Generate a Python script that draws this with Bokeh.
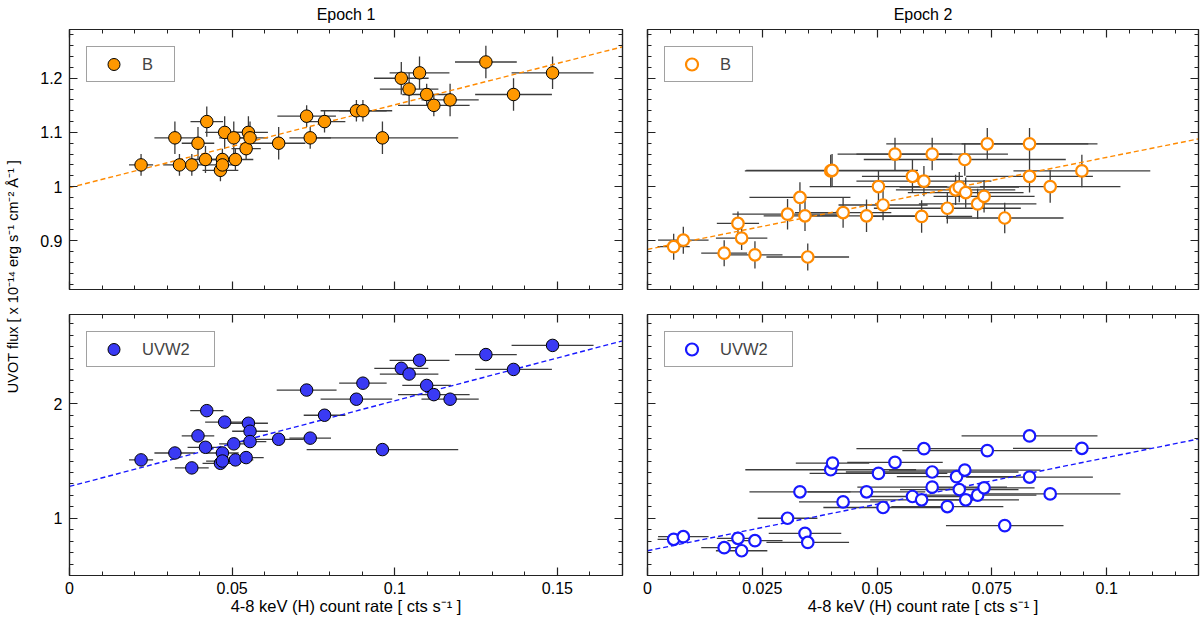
import numpy as np
from bokeh.plotting import figure
from bokeh.models import (ColumnDataSource, Range1d, LinearAxis, FixedTicker, Label,
                          Legend, LegendItem)
from bokeh.layouts import row, column
from bokeh.embed import file_html
from bokeh.resources import INLINE

# ---------------- data ----------------
# Epoch 1, B band
e1_B_rate = [0.022, 0.0324, 0.0338, 0.0376, 0.0395, 0.0418, 0.0422, 0.0464, 0.047, 0.047,
             0.0477, 0.0505, 0.051, 0.0543, 0.055, 0.0555, 0.0643, 0.0729, 0.074, 0.0784,
             0.0882, 0.0902, 0.0962, 0.102, 0.1044, 0.1076, 0.1098, 0.112, 0.117, 0.128,
             0.1365, 0.1485]
e1_B_rate_err = [0.0037, 0.0063, 0.005, 0.004, 0.005, 0.005, 0.005, 0.0055, 0.005, 0.005,
                 0.006, 0.0045, 0.0055, 0.0045, 0.006, 0.0055, 0.0082, 0.009, 0.0064, 0.0064,
                 0.011, 0.0073, 0.0233, 0.0084, 0.009, 0.0092, 0.0075, 0.011, 0.0088, 0.0095,
                 0.0118, 0.0126]
e1_B_flux = [1.04, 1.09, 1.04, 1.04, 1.08, 1.05, 1.12, 1.03, 1.05, 1.04,
             1.10, 1.09, 1.05, 1.07, 1.10, 1.09, 1.08, 1.13, 1.09, 1.12,
             1.14, 1.14, 1.09, 1.20, 1.18, 1.21, 1.17, 1.15, 1.16, 1.23,
             1.17, 1.21]
e1_B_flux_err = [0.02, 0.03, 0.02, 0.02, 0.03, 0.025, 0.028, 0.02, 0.02, 0.02,
                 0.03, 0.03, 0.02, 0.02, 0.03, 0.03, 0.03, 0.02, 0.02, 0.02,
                 0.02, 0.02, 0.03, 0.03, 0.03, 0.03, 0.02, 0.02, 0.03, 0.03,
                 0.03, 0.03]

# Epoch 1, UVW2 band
e1_U_rate = [0.022, 0.0324, 0.0376, 0.0395, 0.0418, 0.0422, 0.0464, 0.047, 0.047, 0.0477,
             0.0505, 0.051, 0.0543, 0.055, 0.0555, 0.0555, 0.0643, 0.0729, 0.074, 0.0784,
             0.0882, 0.0902, 0.0962, 0.102, 0.1044, 0.1076, 0.1098, 0.112, 0.117, 0.128,
             0.1365, 0.1485]
e1_U_rate_err = [0.0037, 0.0063, 0.0052, 0.005, 0.0055, 0.0051, 0.0055, 0.005, 0.005, 0.006,
                 0.0045, 0.0055, 0.0054, 0.006, 0.0055, 0.005, 0.0077, 0.0092, 0.0064, 0.0064,
                 0.011, 0.0073, 0.0233, 0.0083, 0.009, 0.0092, 0.0075, 0.011, 0.0088, 0.0095,
                 0.0118, 0.0126]
e1_U_flux = [1.51, 1.57, 1.44, 1.72, 1.62, 1.94, 1.48, 1.57, 1.50, 1.84,
             1.65, 1.51, 1.53, 1.83, 1.76, 1.67, 1.69, 2.12, 1.70, 1.90,
             2.04, 2.18, 1.60, 2.31, 2.26, 2.38, 2.16, 2.08, 2.04, 2.43,
             2.30, 2.51]
e1_U_flux_err = [0.03] * 32

# Epoch 2, B band
e2_B_rate = [0.0057, 0.0078, 0.0167, 0.0197, 0.0205, 0.0234, 0.0305, 0.0332, 0.0343, 0.0349,
             0.0399, 0.0402, 0.0426, 0.0477, 0.0503, 0.0513, 0.0539, 0.0577, 0.0597, 0.0602,
             0.062, 0.0653, 0.0671, 0.0679, 0.0691, 0.0693, 0.0719, 0.0733, 0.074, 0.0778,
             0.0832, 0.0832, 0.0877, 0.0946]
e2_B_rate_err = [0.0035, 0.0055, 0.005, 0.0046, 0.0056, 0.006, 0.012, 0.011, 0.009, 0.009,
                 0.0187, 0.0187, 0.0105, 0.0125, 0.015, 0.0097, 0.0125, 0.011, 0.011, 0.0147,
                 0.0165, 0.016, 0.013, 0.013, 0.022, 0.0126, 0.0128, 0.011, 0.022, 0.0128,
                 0.0148, 0.0138, 0.0153, 0.0149]
e2_B_flux = [0.889, 0.901, 0.877, 0.932, 0.905, 0.874, 0.949, 0.980, 0.946, 0.870,
             1.029, 1.030, 0.952, 0.946, 1.000, 0.966, 1.060, 1.019, 0.945, 1.010,
             1.060, 0.960, 0.994, 0.999, 1.050, 0.989, 0.968, 0.982, 1.079, 0.942,
             1.079, 1.019, 1.000, 1.029]
e2_B_flux_err = [0.024, 0.025, 0.024, 0.022, 0.022, 0.025, 0.028, 0.028, 0.028, 0.025,
                 0.03, 0.03, 0.028, 0.03, 0.03, 0.028, 0.03, 0.03, 0.03, 0.028,
                 0.03, 0.028, 0.028, 0.028, 0.03, 0.028, 0.028, 0.03, 0.029, 0.028,
                 0.029, 0.03, 0.03, 0.03]

# Epoch 2, UVW2 band
e2_U_rate = [0.0057, 0.0078, 0.0167, 0.0197, 0.0205, 0.0234, 0.0305, 0.0332, 0.0343, 0.0349,
             0.0399, 0.0403, 0.0426, 0.0477, 0.0503, 0.0513, 0.0539, 0.0577, 0.0597, 0.0602,
             0.062, 0.062, 0.0653, 0.0673, 0.0679, 0.0691, 0.0693, 0.0719, 0.0733, 0.074,
             0.0778, 0.0832, 0.0832, 0.0877, 0.0946]
e2_U_rate_err = [0.0035, 0.0055, 0.005, 0.0046, 0.0056, 0.006, 0.0065, 0.011, 0.0079, 0.009,
                 0.0186, 0.008, 0.0096, 0.0128, 0.015, 0.013, 0.0104, 0.011, 0.0112, 0.0147,
                 0.0188, 0.0163, 0.0122, 0.013, 0.0129, 0.0165, 0.0116, 0.0128, 0.011, 0.0185,
                 0.0128, 0.0148, 0.0138, 0.0153, 0.015]
e2_U_flux = [0.816, 0.839, 0.743, 0.825, 0.716, 0.804, 1.000, 1.231, 0.868, 0.789,
             1.424, 1.482, 1.143, 1.231, 1.392, 1.094, 1.488, 1.190, 1.161, 1.608,
             1.404, 1.272, 1.102, 1.363, 1.251, 1.421, 1.161, 1.202, 1.266, 1.591,
             0.936, 1.719, 1.360, 1.213, 1.611]
e2_U_flux_err = [0.03] * 35

# Linear fits (end points of the dashed lines)
e1_fit_x = [0.0, 0.17]
e1_B_fit_y = [0.998, 1.258]
e1_U_fit_y = [1.278, 2.55]
e2_fit_x = [0.0, 0.12]
e2_B_fit_y = [0.884, 1.088]
e2_U_fit_y = [0.716, 1.693]

# Axis ticks and labels
e1_x_ticks = [0.0, 0.05, 0.1, 0.15]
e1_x_labels = ["0", "0.05", "0.1", "0.15"]
e2_x_ticks = [0.0, 0.025, 0.05, 0.075, 0.1]
e2_x_labels = ["0", "0.025", "0.05", "0.075", "0.1"]
B_y_ticks = [0.9, 1.0, 1.1, 1.2]
B_y_labels = ["0.9", "1", "1.1", "1.2"]
U_y_ticks = [1.0, 2.0]
U_y_labels = ["1", "2"]

epoch_titles = ["Epoch 1", "Epoch 2"]
band_names = ["B", "UVW2"]
x_title = "4-8 keV (H) count rate [ cts s\u207b\u00b9 ]"
y_title = "UVOT flux [ x 10\u207b\u00b9\u2074 erg s\u207b\u00b9 cm\u207b\u00b2 \u00c5\u207b\u00b9 ]"

# ---------------- styling ----------------
FONT = "Liberation Sans"
ORANGE_FILL = "#FF9800"
ORANGE_LINE = "#FF8A00"
BLUE_FILL = "#3A3AF4"
BLUE_LINE = "#1818FF"
ERR_COLOR = "#3c3c3c"
AX_COLOR = "#222222"

e1_x_minor = [round(v, 4) for v in np.arange(0.0, 0.1701, 0.01)]
e2_x_minor = [round(v, 4) for v in np.arange(0.0, 0.1201, 0.005)]
B_y_minor = [round(v, 4) for v in np.arange(0.82, 1.2801, 0.02)]
U_y_minor = [round(v, 4) for v in np.arange(0.6, 2.7501, 0.1)]


def style_axis(ax, ticks, labels, minor, show_labels):
    ax.ticker = FixedTicker(ticks=ticks, minor_ticks=minor)
    ax.major_tick_in = 8
    ax.major_tick_out = 0
    ax.minor_tick_in = 4
    ax.minor_tick_out = 0
    ax.axis_line_color = AX_COLOR
    ax.axis_line_width = 1.2
    ax.major_tick_line_color = AX_COLOR
    ax.major_tick_line_width = 1.2
    ax.minor_tick_line_color = AX_COLOR
    ax.minor_tick_line_width = 1.0
    ax.major_label_text_font = FONT
    if show_labels:
        ax.major_label_overrides = dict(zip(ticks, labels))
        ax.major_label_text_font_size = "16px"
        ax.major_label_text_color = "black"
    else:
        ax.major_label_text_font_size = "1px"
        ax.major_label_text_color = None
        ax.major_label_text_alpha = 0
        ax.major_label_standoff = 0


def panel(width, height, xr, yr, xt, xl, xm, yt, yl, ym, show_x, show_y, borders, title=None):
    left, right, top, bottom = borders
    p = figure(width=width, height=height, x_range=Range1d(*xr), y_range=Range1d(*yr),
               output_backend="svg", toolbar_location=None,
               min_border_left=left, min_border_right=right,
               min_border_top=top, min_border_bottom=bottom)
    p.grid.visible = False
    p.outline_line_color = AX_COLOR
    p.outline_line_width = 1.2
    p.background_fill_color = "white"
    p.border_fill_color = "white"
    style_axis(p.xaxis[0], xt, xl, xm, show_x)
    style_axis(p.yaxis[0], yt, yl, ym, show_y)
    p.xaxis[0].major_label_standoff = 6 if show_x else 0
    p.yaxis[0].major_label_standoff = 7 if show_y else 0
    if show_x:
        p.xaxis[0].axis_label = x_title
        p.xaxis[0].axis_label_text_font = FONT
        p.xaxis[0].axis_label_text_font_size = "16.5px"
        p.xaxis[0].axis_label_text_font_style = "normal"
        p.xaxis[0].axis_label_standoff = 0
        p.xaxis[0].axis_label_text_color = "black"
    top_ax = LinearAxis()
    style_axis(top_ax, xt, xl, xm, False)
    p.add_layout(top_ax, "above")
    right_ax = LinearAxis()
    style_axis(right_ax, yt, yl, ym, False)
    p.add_layout(right_ax, "right")
    if title:
        p.title.text = title
        p.title.align = "center"
        p.title.vertical_align = "top"
        p.title.text_font = FONT
        p.title.text_font_size = "16px"
        p.title.text_font_style = "normal"
        p.title.text_color = "black"
        p.title.standoff = 10
    return p


def add_series(p, rate, rate_err, flux, flux_err, fit_x, fit_y, fill, line, open_marker,
               label, label_width):
    r = np.array(rate)
    re = np.array(rate_err)
    f = np.array(flux)
    fe = np.array(flux_err)
    src = ColumnDataSource(dict(x=r, y=f, xlo=r - re, xhi=r + re, ylo=f - fe, yhi=f + fe))
    p.segment(x0="xlo", y0="y", x1="xhi", y1="y", source=src, line_color=ERR_COLOR,
              line_width=1.3)
    p.segment(x0="x", y0="ylo", x1="x", y1="yhi", source=src, line_color=ERR_COLOR,
              line_width=1.3)
    p.line(fit_x, fit_y, line_color=line, line_width=1.4, line_dash="5 3")
    if open_marker:
        sc = p.scatter("x", "y", source=src, marker="circle", size=11.5, fill_color="white",
                       line_color=line, line_width=2.2)
    else:
        sc = p.scatter("x", "y", source=src, marker="circle", size=12.5, fill_color=fill,
                       line_color="black", line_width=1)
    leg = Legend(items=[LegendItem(label=label, renderers=[sc])], location="top_left",
                 margin=17, padding=2, glyph_width=49, glyph_height=30, label_standoff=4,
                 label_width=label_width, spacing=0,
                 label_text_font=FONT, label_text_font_size="16.5px",
                 border_line_color="#444444", border_line_width=1.2,
                 background_fill_color="white", background_fill_alpha=1.0)
    p.add_layout(leg)


TOP_H = 301
BOT_H = 321
L_W = 609
R_W = 566

tl = panel(L_W, TOP_H, (0, 0.17), (0.81, 1.29), e1_x_ticks, e1_x_labels, e1_x_minor,
           B_y_ticks, B_y_labels, B_y_minor, False, True, (44, 12, 28, 12), epoch_titles[0])
tr = panel(R_W, TOP_H, (0, 0.12), (0.81, 1.29), e2_x_ticks, e2_x_labels, e2_x_minor,
           B_y_ticks, B_y_labels, B_y_minor, False, False, (13, 2, 28, 12), epoch_titles[1])
bl = panel(L_W, BOT_H, (0, 0.17), (0.5, 2.78), e1_x_ticks, e1_x_labels, e1_x_minor,
           U_y_ticks, U_y_labels, U_y_minor, True, True, (44, 12, 13, 47))
br = panel(R_W, BOT_H, (0, 0.12), (0.5, 2.78), e2_x_ticks, e2_x_labels, e2_x_minor,
           U_y_ticks, U_y_labels, U_y_minor, True, False, (13, 2, 13, 47))

add_series(tl, e1_B_rate, e1_B_rate_err, e1_B_flux, e1_B_flux_err, e1_fit_x, e1_B_fit_y,
           ORANGE_FILL, ORANGE_LINE, False, band_names[0], 30)
add_series(tr, e2_B_rate, e2_B_rate_err, e2_B_flux, e2_B_flux_err, e2_fit_x, e2_B_fit_y,
           ORANGE_FILL, ORANGE_LINE, True, band_names[0], 30)
add_series(bl, e1_U_rate, e1_U_rate_err, e1_U_flux, e1_U_flux_err, e1_fit_x, e1_U_fit_y,
           BLUE_FILL, BLUE_LINE, False, band_names[1], 70)
add_series(br, e2_U_rate, e2_U_rate_err, e2_U_flux, e2_U_flux_err, e2_fit_x, e2_U_fit_y,
           BLUE_FILL, BLUE_LINE, True, band_names[1], 70)

# y-axis title spanning both rows
TOTAL_H = TOP_H + BOT_H
lf = figure(width=25, height=TOTAL_H, x_range=Range1d(0, 1), y_range=Range1d(0, 1),
            output_backend="svg", toolbar_location=None, x_axis_location=None,
            y_axis_location=None, min_border=0)
lf.outline_line_color = None
lf.grid.visible = False
lf.add_layout(Label(x=0.48, y=(TOTAL_H - 276) / TOTAL_H, text=y_title, angle=90,
                    angle_units="deg", text_align="center", text_baseline="middle",
                    text_font=FONT, text_font_size="14.5px", text_color="black"))

layout = row(lf, column(row(tl, tr), row(bl, br)))

open("out.html", "w").write(file_html(layout, INLINE))
